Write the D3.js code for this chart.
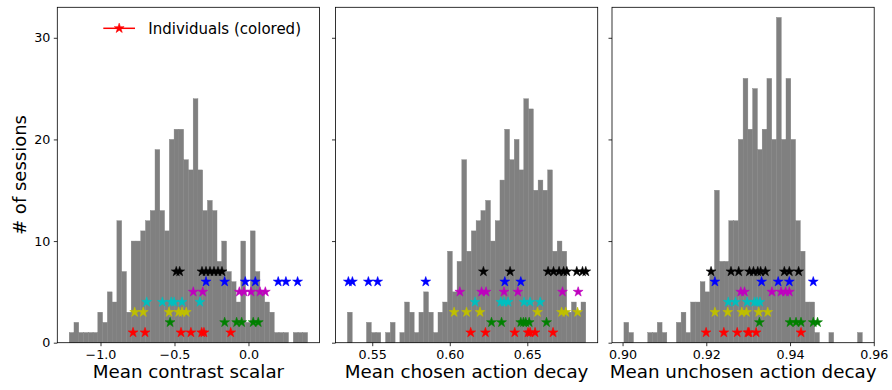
<!DOCTYPE html>
<html>
<head>
<meta charset="utf-8">
<script src="https://cdn.jsdelivr.net/npm/d3@7"></script>
<style>
  body { margin: 0; background: #fff; }
  svg { display: block; }
  text { font-family: "DejaVu Sans", sans-serif; fill: #000; }
</style>
</head>
<body>
<svg id="chart" width="892" height="390"></svg>
<script>
// ---- Histogram data: 50 equal bins per parameter ----
const contrastBinStart = -1.21145, contrastBinWidth = 0.032218;
const contrastCounts = [1,2,1,1,1,1,3,2,5,4,12,7,3,10,10,11,12,13,19,13,11,20,21,21,18,17,24,
                        17,13,14,13,8,10,7,6,4,10,2,11,7,5,4,3,1,1,1,0,1,1,1];

const chosenBinStart = 0.53399, chosenBinWidth = 0.0030745;
const chosenCounts = [3,0,0,0,2,1,1,0,1,2,0,1,4,3,1,3,5,3,1,3,4,9,5,8,18,9,11,
                      12,13,14,10,12,16,21,18,20,17,24,23,15,16,15,17,9,10,9,3,4,3,4];

const unchosenBinStart = 0.90033, unchosenBinWidth = 0.0011385;
const unchosenCounts = [2,1,0,0,0,1,1,2,1,0,0,2,3,1,4,4,6,5,7,15,8,8,12,12,20,26,21,
                        25,19,21,26,20,32,20,26,20,12,9,4,4,1,0,0,1,0,0,0,0,0,1];

// ---- Axis ranges and ticks ----
const contrastDomain = [-1.292, 0.480];
const chosenDomain = [0.5263, 0.6954];
const unchosenDomain = [0.89748, 0.96010];
const contrastTicks = [-1.0, -0.5, 0.0];
const contrastTickLabels = ["\u22121.0", "\u22120.5", "0.0"];
const chosenTicks = [0.55, 0.60, 0.65];
const chosenTickLabels = ["0.55", "0.60", "0.65"];
const unchosenTicks = [0.90, 0.92, 0.94, 0.96];
const unchosenTickLabels = ["0.90", "0.92", "0.94", "0.96"];
const countDomain = [0, 33];
const countTicks = [0, 10, 20, 30];
const axisTitles = ["Mean contrast scalar", "Mean chosen action decay", "Mean unchosen action decay"];

// ---- Individual sessions: one row per individual (r, g, y, c, m, b, k) ----
const individualColors = ["#ff0000", "#008000", "#bfbf00", "#00bfbf", "#bf00bf", "#0000ff", "#000000"];
const individualLevels = [1, 2, 3, 4, 5, 6, 7];

const contrastIndividuals = [
  [-0.780, -0.699, -0.456, -0.389, -0.316, -0.301, -0.120],
  [-0.530, -0.161, -0.080, -0.046, 0.032, 0.066],
  [-0.769, -0.711, -0.537, -0.472, -0.449, -0.420],
  [-0.688, -0.582, -0.522, -0.503, -0.449, -0.328],
  [-0.373, -0.309, -0.062, -0.030, 0.017, 0.078, 0.114],
  [-0.287, -0.161, -0.022, 0.046, 0.201, 0.253, 0.332],
  [-0.488, -0.465, -0.314, -0.287, -0.260, -0.233, -0.206, -0.179]
];
const chosenIndividuals = [
  [0.6135, 0.6230, 0.6419, 0.6505, 0.6518, 0.6550, 0.6666],
  [0.6269, 0.6334, 0.6458, 0.6475, 0.6490, 0.6512, 0.6624],
  [0.6028, 0.6108, 0.6195, 0.6566, 0.6721, 0.6748, 0.6824],
  [0.6163, 0.6329, 0.6350, 0.6376, 0.6479, 0.6518, 0.6583],
  [0.6065, 0.6205, 0.6234, 0.6350, 0.6439, 0.6727, 0.6828],
  [0.5346, 0.5372, 0.5475, 0.5535, 0.5845, 0.6355, 0.6458],
  [0.6217, 0.6389, 0.6634, 0.6669, 0.6705, 0.6734, 0.6755, 0.6819, 0.6856, 0.6877]
];
const unchosenIndividuals = [
  [0.91995, 0.92419, 0.92738, 0.92995, 0.93019, 0.93190, 0.94262],
  [0.93269, 0.94000, 0.94143, 0.94262, 0.94555, 0.94657],
  [0.92205, 0.92512, 0.92848, 0.92960, 0.93252, 0.93467],
  [0.92524, 0.92698, 0.92976, 0.93150, 0.93210, 0.93281],
  [0.92824, 0.92912, 0.93567, 0.93786, 0.93895, 0.93983],
  [0.92205, 0.93321, 0.93717, 0.93983, 0.94555],
  [0.92114, 0.92590, 0.92774, 0.93031, 0.93126, 0.93229, 0.93298, 0.93412, 0.93864, 0.93983, 0.94205]
];

// ---- Layout ----
const panelLefts = [57.3, 335.5, 612];
const panelWidth = 262.2;
const plotTop = 7.3, plotBottom = 342.7;

const panels = [
  { counts: contrastCounts, start: contrastBinStart, width: contrastBinWidth, domain: contrastDomain,
    ticks: contrastTicks, labels: contrastTickLabels, stars: contrastIndividuals, title: axisTitles[0] },
  { counts: chosenCounts, start: chosenBinStart, width: chosenBinWidth, domain: chosenDomain,
    ticks: chosenTicks, labels: chosenTickLabels, stars: chosenIndividuals, title: axisTitles[1] },
  { counts: unchosenCounts, start: unchosenBinStart, width: unchosenBinWidth, domain: unchosenDomain,
    ticks: unchosenTicks, labels: unchosenTickLabels, stars: unchosenIndividuals, title: axisTitles[2] }
];

const svg = d3.select("#chart");
const y = d3.scaleLinear().domain(countDomain).range([plotBottom, plotTop]);
const star = d3.symbol().type(d3.symbolStar).size(30);

panels.forEach((p, pi) => {
  const left = panelLefts[pi];
  const x = d3.scaleLinear().domain(p.domain).range([left, left + panelWidth]);
  const g = svg.append("g");

  // histogram bars (thin same-colour stroke closes the seams between neighbours)
  const bins = p.counts.map((c, i) => ({ x0: p.start + i * p.width, x1: p.start + (i + 1) * p.width, c }))
                       .filter(d => d.c > 0);
  g.append("g").selectAll("rect").data(bins).join("rect")
    .attr("x", d => x(d.x0))
    .attr("width", d => x(d.x1) - x(d.x0))
    .attr("y", d => y(d.c))
    .attr("height", d => y(0) - y(d.c))
    .attr("fill", "#808080")
    .attr("stroke", "#808080")
    .attr("stroke-width", 0.4);

  // individual session markers
  p.stars.forEach((vals, k) => {
    g.append("g").selectAll("path").data(vals).join("path")
      .attr("d", star)
      .attr("transform", v => `translate(${x(v)},${y(individualLevels[k])})`)
      .attr("fill", individualColors[k])
      .attr("stroke", individualColors[k])
      .attr("stroke-width", 0.6);
  });

  // x axis
  const xAxis = d3.axisBottom(x).tickValues(p.ticks).tickFormat((d, i) => p.labels[i])
    .tickSizeInner(3.5).tickSizeOuter(0).tickPadding(3.5);
  const xg = g.append("g").attr("transform", `translate(0,${plotBottom})`).call(xAxis);
  xg.select(".domain").remove();
  xg.selectAll("line").attr("stroke", "#000").attr("stroke-width", 0.8);
  xg.selectAll("text").attr("font-size", 12.7).attr("font-family", "DejaVu Sans").attr("fill", "#000");

  // y axis (labels only on the first panel)
  const yAxis = d3.axisLeft(y).tickValues(countTicks).tickSizeInner(3.5).tickSizeOuter(0).tickPadding(3.5)
    .tickFormat(pi === 0 ? d3.format("d") : () => "");
  const yg = g.append("g").attr("transform", `translate(${left},0)`).call(yAxis);
  yg.select(".domain").remove();
  yg.selectAll("line").attr("stroke", "#000").attr("stroke-width", 0.8);
  yg.selectAll("text").attr("font-size", 12.7).attr("font-family", "DejaVu Sans").attr("fill", "#000");

  // frame
  g.append("rect").attr("x", left).attr("y", plotTop)
    .attr("width", panelWidth).attr("height", plotBottom - plotTop)
    .attr("fill", "none").attr("stroke", "#000").attr("stroke-width", 0.8);

  // x title
  g.append("text").attr("x", left + panelWidth / 2).attr("y", 378)
    .attr("text-anchor", "middle").attr("font-size", 18.3).text(p.title);
});

// y title
svg.append("text").attr("transform", `translate(26,${(plotTop + plotBottom) / 2}) rotate(-90)`)
  .attr("text-anchor", "middle").attr("font-size", 18).text("# of sessions");

// legend
const lg = svg.append("g");
lg.append("line").attr("x1", 103.3).attr("x2", 135).attr("y1", 28.3).attr("y2", 28.3)
  .attr("stroke", "#ff0000").attr("stroke-width", 1.5);
lg.append("path").attr("d", star).attr("transform", "translate(119.2,28.3)")
  .attr("fill", "#ff0000").attr("stroke", "#ff0000").attr("stroke-width", 0.6);
lg.append("text").attr("x", 148.3).attr("y", 33.8).attr("font-size", 15).text("Individuals (colored)");
</script>
</body>
</html>
